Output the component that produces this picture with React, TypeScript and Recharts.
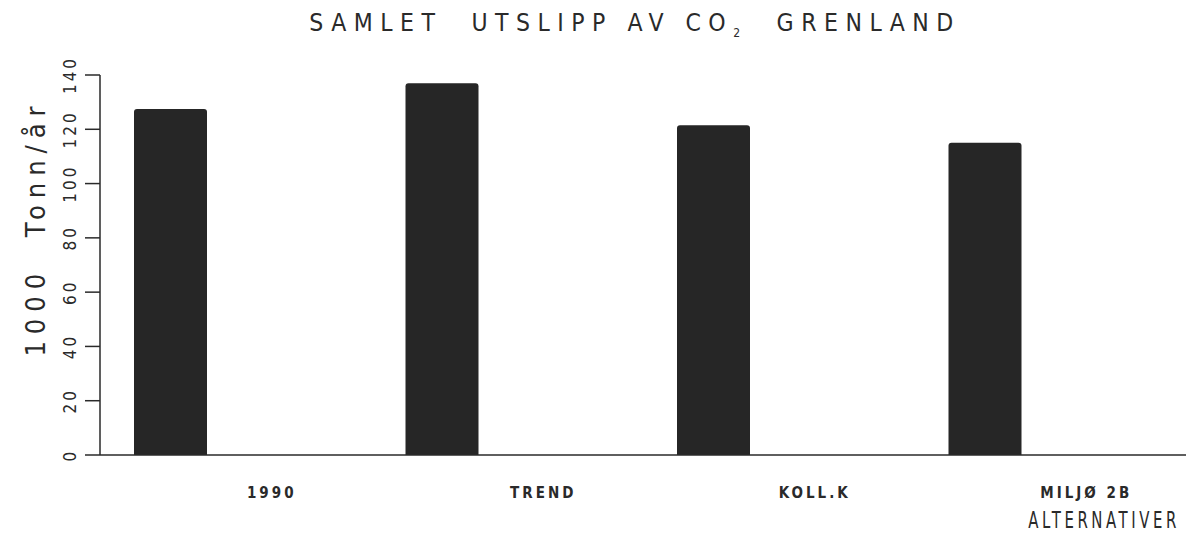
import { BarChart, Bar, XAxis, YAxis } from 'recharts';

const categories = ['1990', 'TREND', 'KOLL.K', 'MILJØ 2B'];
const emissions = [127.5, 137, 121.5, 115];
const yTicks = [0, 20, 40, 60, 80, 100, 120, 140];

const data = categories.map((name, i) => ({ name, value: emissions[i] }));

const FONT = '"DejaVu Sans", sans-serif';
const INK = '#2a2a2a';
const narrow = { fontStretch: 'condensed' as const };

function YTick({ x, y, payload }: any) {
  const cx = x - 13;
  return (
    <text
      x={cx}
      y={y}
      transform={`rotate(-90 ${cx} ${y})`}
      textAnchor="middle"
      dominantBaseline="central"
      fontFamily={FONT}
      fontSize={17}
      letterSpacing={3}
      fill={INK}
      style={narrow}
    >
      {payload.value}
    </text>
  );
}

function XTick({ x, y, payload }: any) {
  return (
    <text
      x={x + 36}
      y={y + 35}
      textAnchor="middle"
      fontFamily={FONT}
      fontSize={15}
      fontWeight="bold"
      letterSpacing={3}
      fill={INK}
      style={narrow}
    >
      {payload.value}
    </text>
  );
}

function YTitle({ viewBox }: any) {
  const cx = viewBox.x + 35;
  const cy = viewBox.y + viewBox.height / 2 - 37;
  return (
    <text
      x={cx}
      y={cy}
      transform={`rotate(-90 ${cx} ${cy})`}
      textAnchor="middle"
      dominantBaseline="central"
      fontFamily={FONT}
      fontSize={27}
      letterSpacing={7}
      fill={INK}
      style={{ ...narrow, whiteSpace: 'pre' }}
    >
      {'1000  Tonn/år'}
    </text>
  );
}

function XTitle({ viewBox }: any) {
  const tx = viewBox.x + viewBox.width - 6;
  const ty = viewBox.y + 73;
  return (
    <text
      x={0}
      y={0}
      transform={`translate(${tx} ${ty}) scale(0.72 1)`}
      textAnchor="end"
      fontFamily={FONT}
      fontSize={23}
      letterSpacing={5}
      fill={INK}
      style={narrow}
    >
      ALTERNATIVER
    </text>
  );
}

export default function App() {
  return (
    <div style={{ position: 'absolute', left: 0, top: 0, width: 1186, height: 537, background: '#fff' }}>
      <div
        style={{
          position: 'absolute',
          top: 8,
          left: 0,
          width: 1270,
          textAlign: 'center',
          fontFamily: FONT,
          fontSize: 24.5,
          letterSpacing: 7.5,
          color: INK,
          whiteSpace: 'pre',
          fontStretch: 'condensed',
        }}
      >
        {'SAMLET  UTSLIPP AV CO'}
        <span style={{ fontSize: 12, verticalAlign: 'sub' }}>2</span>
        {'  GRENLAND'}
      </div>
      <BarChart
        width={1186}
        height={537}
        data={data}
        margin={{ top: 75, right: 0, left: 0, bottom: 2 }}
        barSize={73}
        barGap={58}
      >
        <XAxis
          dataKey="name"
          axisLine={{ stroke: INK, strokeWidth: 1.5 }}
          tickLine={false}
          tick={<XTick />}
          height={80}
          interval={0}
          label={<XTitle />}
        />
        <YAxis
          domain={[0, 140]}
          ticks={yTicks}
          width={100}
          axisLine={{ stroke: INK, strokeWidth: 1.5 }}
          tickLine={{ stroke: INK, strokeWidth: 1.5 }}
          tickSize={15}
          tick={<YTick />}
          label={<YTitle />}
        />
        <Bar dataKey="value" fill="#262626" radius={[3, 3, 0, 0]} isAnimationActive={false} />
        <Bar dataKey="blank" fill="#262626" isAnimationActive={false} />
      </BarChart>
    </div>
  );
}
